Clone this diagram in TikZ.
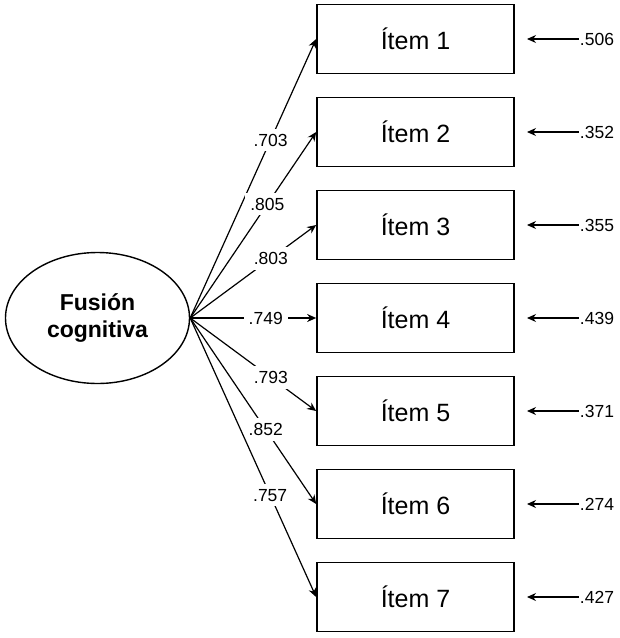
\documentclass[tikz,border=0pt]{standalone}
\usepackage{fontspec}
\setmainfont{Liberation Sans}
\usetikzlibrary{shapes.geometric,arrows.meta}
\begin{document}
\begin{tikzpicture}[x=1pt,y=-1pt,
  itembox/.style={draw,line width=1.7pt,minimum width=197pt,minimum height=69pt,inner sep=0pt,font=\fontsize{25}{29}\selectfont},
  latent/.style={draw,ellipse,line width=1.4pt,minimum width=184pt,minimum height=131pt,inner sep=0pt,align=center,font=\fontsize{23}{27}\selectfont\bfseries},
  loadlbl/.style={fill=white,inner xsep=5pt,inner ysep=5pt,font=\fontsize{17.5}{20}\selectfont},
  errlbl/.style={inner sep=1pt,font=\fontsize{17.5}{20}\selectfont},
  conn/.style={line width=1.2pt,-{Stealth[length=9pt,width=8pt]}}
]
\useasboundingbox (0,0) rectangle (620,638);
\node[latent] (F) at (97.5,318) {Fusión\\cognitiva};
\foreach \i/\y in {1/39,2/132,3/225,4/318,5/411,6/504,7/597}{
  \node[itembox] (i\i) at (415.5,\y) {Ítem \i};
  \coordinate (t\i) at (527,\y);
}
\foreach \i/\p/\v in {1/0.638/.703,2/0.613/.805,3/0.64/.803,4/0.6/.749,5/0.64/.793,6/0.6/.852,7/0.635/.757}{
  \draw[conn] (F.east) -- node[loadlbl,pos=\p] {\v} (i\i.west);
}
\foreach \i/\y/\v in {1/39/.506,2/132/.352,3/225/.355,4/318/.439,5/411/.371,6/504/.274,7/597/.427}{
  \node[errlbl] (e\i) at (597,\y) {\v};
  \draw[conn] (e\i.west) -- (t\i);
}
\end{tikzpicture}
\end{document}
